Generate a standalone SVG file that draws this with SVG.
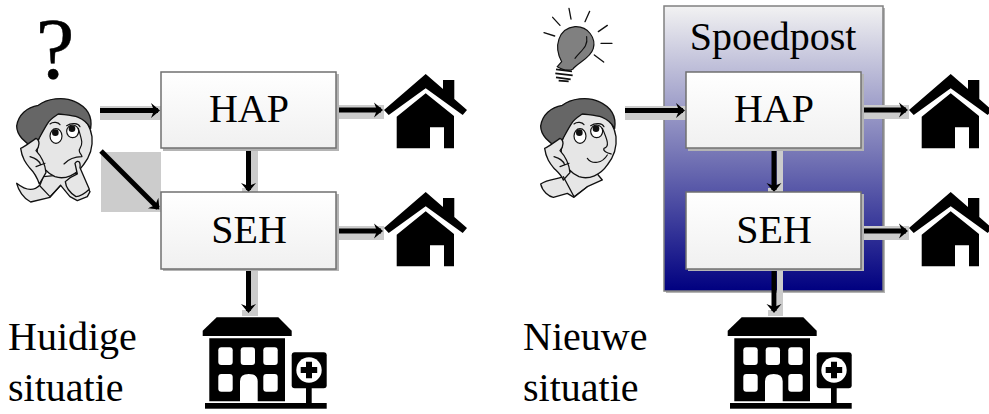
<svg xmlns="http://www.w3.org/2000/svg" width="989" height="414" viewBox="0 0 989 414">
<style>
text{font-family:"Liberation Serif","Times New Roman",serif;font-size:40px;fill:#000}
.c{text-anchor:middle}
.box{stroke:#707070;stroke-width:1.5;fill:url(#boxg)}
.sh{fill:#b4b4b4}
.ag{fill:#ccc}
.ln{stroke:#000;stroke-width:5;fill:none}
.ol{stroke:#111;stroke-width:4;stroke-linejoin:round}
.skin{fill:#e6e6e6}
.hair{fill:#666}
.thin{fill:none;stroke:#111;stroke-width:3.500;stroke-linecap:round;stroke-linejoin:round}
</style>
<defs>
<linearGradient id="boxg" x1="0" y1="0" x2="0" y2="1"><stop offset="0" stop-color="#fff"/><stop offset="1" stop-color="#f0f0f0"/></linearGradient>
<linearGradient id="pg" x1="0" y1="0" x2="0" y2="1"><stop offset="0" stop-color="#f2f2f2"/><stop offset="0.5" stop-color="#7b7bb8"/><stop offset="1" stop-color="#000080"/></linearGradient>
<marker id="ah" markerUnits="userSpaceOnUse" markerWidth="12" markerHeight="18" refX="7" refY="9" orient="auto"><path d="M0 1.500L9 9L0 16.500L3 9Z" fill="#000"/></marker>
<symbol id="house" width="85" height="76" viewBox="0 0 85 76" overflow="visible">
<path d="M41.7 0L59 15V6H70.3V25L83 36L78.7 41L41.7 14.300L4.700 41L0 36Z" fill="#000"/>
<path d="M41.700 19.300L70 42V74.300H60V53.300H46V74.300H12.700V42.700Z" fill="#000"/>
</symbol>
<symbol id="hosp" width="130" height="95" viewBox="0 0 130 95" overflow="visible">
<path d="M14 0H75.600L89 13.400V18.700H0V13.400Z" fill="#000"/>
<path d="M6.600 21H82.300V84H55V64Q55 56.700 46 56.700H46Q37.300 56.700 37.300 64V84H6.600Z" fill="#000"/>
<g fill="#fff"><rect x="15.600" y="30" width="14.400" height="17.700" rx="3"/><rect x="38" y="30" width="14.300" height="17.700" rx="3"/><rect x="60.600" y="30" width="14.400" height="17.700" rx="3"/><rect x="15.600" y="56.700" width="14.400" height="17.700" rx="3"/><rect x="60.600" y="56.700" width="14.400" height="17.700" rx="3"/></g>
<rect x="89" y="35" width="35" height="36" rx="3" fill="#000"/>
<circle cx="106.300" cy="52.700" r="12.700" fill="#fff"/>
<path d="M103.300 44.500H109.300V49.700H114.500V55.700H109.300V61H103.300V55.700H98V49.700H103.300Z" fill="#000"/>
<rect x="103.300" y="70" width="5.700" height="17" fill="#000"/>
<rect x="2.300" y="85.700" width="121.700" height="5.700" fill="#000"/>
</symbol>
<g id="headbase">
<path class="skin ol" d="M150 350C170 340 205 335 235 345C258 352 272 385 276 410C279 440 270 470 250 495C230 525 195 540 165 530C140 520 125 500 115 475C108 450 110 425 125 395Z"/>
<path class="hair ol" d="M50 378C55 345 80 322 115 316C140 296 190 288 225 305C258 320 278 345 272 385C262 368 250 358 235 352C215 345 195 345 175 342C160 352 150 358 143 370C130 390 118 415 102 442C75 430 50 405 50 378Z"/>
<ellipse cx="168" cy="408" rx="18" ry="22" fill="#fff" stroke="#111" stroke-width="3.500"/>
<ellipse cx="218" cy="394" rx="18" ry="19" fill="#fff" stroke="#111" stroke-width="3.500"/>
<circle cx="166" cy="398" r="10" fill="#111"/>
<circle cx="216" cy="386" r="10" fill="#111"/>
<path class="thin" d="M150 372C160 364 175 367 180 374M200 377C215 367 235 370 240 380"/>
</g>
</defs>

<g id="connectors-left">
<rect class="ag" x="100" y="106" width="61" height="14"/>
<rect class="ag" x="101" y="152" width="60" height="60"/>
<rect class="ag" x="336" y="105" width="48" height="14"/>
<rect class="ag" x="336" y="226" width="48" height="14"/>
<path class="ag" d="M251 148H258V194H242V188H251Z"/>
<path class="ag" d="M251 269H258V316H242V310H251Z"/>
<path class="ln" d="M100 110.500H158" marker-end="url(#ah)"/>
<path class="ln" d="M101 151L158 208" marker-end="url(#ah)"/>
<path class="ln" d="M336 110H381" marker-end="url(#ah)"/>
<path class="ln" d="M336 231H381" marker-end="url(#ah)"/>
<path class="ln" d="M248.500 148V190" marker-end="url(#ah)"/>
<path class="ln" d="M248.500 269V311" marker-end="url(#ah)"/>
</g>

<g id="person-left" transform="scale(0.3333)">
<path class="skin ol" d="M120 555C105 570 85 578 50 550C55 570 70 595 92 606L150 592L182 556L210 590L232 602L262 590L270 575L232 520L130 530Z"/>
<use href="#headbase"/>
<path class="thin" d="M235 385C245 420 250 430 240 445C232 455 245 462 246 470C225 470 205 478 192 492"/>
<path class="skin ol" d="M225 490C235 478 242 485 240 503L268 568C255 580 240 590 228 590C212 580 198 565 196 545C210 530 225 525 232 522Z"/>
<path class="skin ol" d="M62 445C75 440 88 428 108 415C120 420 120 440 108 452C125 470 135 490 138 518L118 552C112 535 100 515 90 505C78 490 66 475 62 445Z"/>
<path class="thin" d="M90 470C105 475 118 480 122 495M108 500L135 490M120 558L150 590L182 556"/>
</g>

<g id="question"><text x="55" y="78" class="c" style="font-size:87px;stroke:#000;stroke-width:0.500">?</text></g>

<g id="hap-left"><rect class="sh" x="163" y="74" width="176" height="77"/><rect class="box" x="161" y="72" width="175" height="76"/><text x="249" y="122" class="c">HAP</text></g>
<g id="seh-left"><rect class="sh" x="163" y="194" width="176" height="77"/><rect class="box" x="161" y="192" width="175" height="77"/><text x="249" y="243" class="c">SEH</text></g>
<g id="home-left-1"><use href="#house" x="384" y="74"/></g>
<g id="home-left-2"><use href="#house" x="384" y="192"/></g>
<g id="hospital-left"><use href="#hosp" x="202.700" y="317.300"/></g>
<g id="label-left"><text x="8" y="350">Huidige</text><text x="8" y="401">situatie</text></g>

<g id="spoedpost"><rect class="sh" x="666" y="8" width="219" height="285"/><rect x="664" y="6" width="219" height="285" fill="url(#pg)" stroke="#808080" stroke-width="1.500"/><text x="773" y="50" class="c">Spoedpost</text></g>

<g id="connectors-right">
<rect class="ag" x="625" y="106" width="61" height="14"/>
<rect class="ag" x="861" y="105" width="48" height="14"/>
<rect class="ag" x="861" y="226" width="48" height="14"/>
<path class="ag" d="M777 148H783V194H768V188H777Z"/>
<path class="ag" d="M777 269H783V316H768V310H777Z"/>
<path class="ln" d="M625 110.500H683" marker-end="url(#ah)"/>
<path class="ln" d="M861 110H906" marker-end="url(#ah)"/>
<path class="ln" d="M861 231H906" marker-end="url(#ah)"/>
<path class="ln" d="M774 148V190" marker-end="url(#ah)"/>
<path class="ln" d="M774 269V311" marker-end="url(#ah)"/>
</g>

<g id="person-right" transform="translate(524,0) scale(0.3333)">
<path class="skin ol" d="M118 530C95 540 75 535 50 552C55 575 75 590 88 592L130 580L150 592L190 560L235 540L210 510L130 515Z"/>
<use href="#headbase"/>
<path class="thin" d="M235 385C250 420 258 440 240 445C235 455 255 460 262 462M190 475C205 495 235 490 250 465"/>
<path class="skin ol" d="M62 445C75 440 88 428 108 415C120 420 120 440 108 452C125 470 135 490 138 518L118 540C112 525 100 515 90 505C78 490 66 475 62 445Z"/>
<path class="thin" d="M90 470C105 475 118 480 122 495M108 500L135 490M118 530L150 590L190 560"/>
</g>

<g id="bulb" transform="translate(520,0) scale(0.3333)">
<path d="M125 185C100 140 115 85 165 80C205 78 228 115 220 145C212 175 170 190 158 208C140 215 120 205 112 200Z" fill="#808080" stroke="#111" stroke-width="3.500"/>
<path class="thin" d="M200 110C205 140 185 150 165 175"/>
<path d="M108 208L156 214M106 220L158 226M108 232L152 238M116 242L146 244" fill="none" stroke="#111" stroke-width="5"/>
<path d="M72 98L104 108M98 52L120 76M147 25L153 57M209 34L195 65M262 76L235 95M243 130H276M223 165L251 186" fill="none" stroke="#111" stroke-width="4" stroke-linecap="round"/>
</g>

<g id="hap-right"><rect class="sh" x="688" y="74" width="176" height="77"/><rect class="box" x="686" y="72" width="175" height="76"/><text x="774" y="122" class="c">HAP</text></g>
<g id="seh-right"><rect class="sh" x="688" y="194" width="176" height="77"/><rect class="box" x="686" y="192" width="175" height="77"/><text x="774" y="243" class="c">SEH</text></g>
<g id="home-right-1"><use href="#house" x="909" y="74"/></g>
<g id="home-right-2"><use href="#house" x="909" y="192"/></g>
<g id="hospital-right"><use href="#hosp" x="727.700" y="317.300"/></g>
<g id="label-right"><text x="523" y="350">Nieuwe</text><text x="523" y="401">situatie</text></g>
</svg>
